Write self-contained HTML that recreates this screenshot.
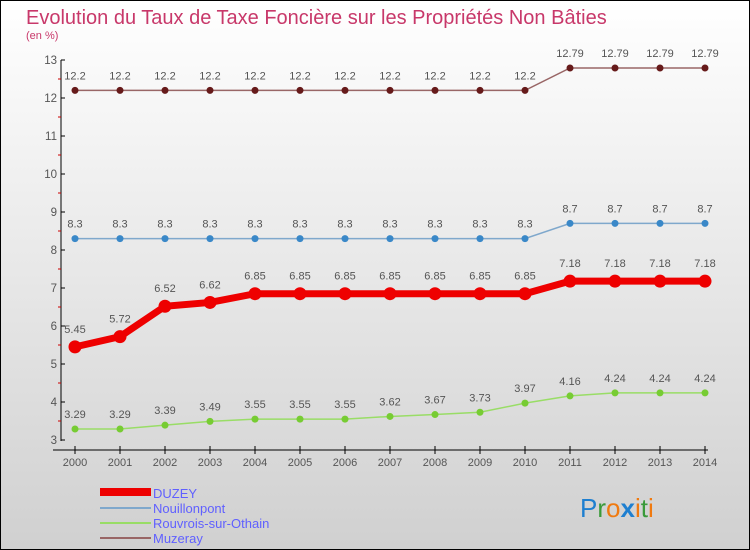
<!DOCTYPE html>
<html><head><meta charset="utf-8"><style>
body{margin:0;}
#wrap{width:750px;height:550px;position:relative;box-sizing:border-box;border:1px solid #000;background:linear-gradient(#ffffff,#d0d0d0);font-family:"Liberation Sans",sans-serif;overflow:hidden;}
</style></head><body>
<div id="wrap">
<svg id="chart" width="750" height="550" style="position:absolute;left:-1px;top:-1px">
<text x="26" y="24" font-size="20" fill="#c8386a">Evolution du Taux de Taxe Foncière sur les Propriétés Non Bâties</text>
<text x="26" y="39" font-size="11" fill="#c8386a">(en %)</text>
<g id="axes"></g>
<g id="series"></g>
<g id="legend" font-size="13" fill="#6060ff">
<rect x="100" y="488" width="51" height="8" fill="#e00"/>
<text x="153" y="498">DUZEY</text>
<rect x="100" y="507" width="51" height="2" fill="#7fa8cc"/>
<text x="153" y="513">Nouillonpont</text>
<rect x="100" y="522" width="51" height="2" fill="#99dd66"/>
<text x="153" y="528">Rouvrois-sur-Othain</text>
<rect x="100" y="537" width="51" height="2" fill="#996666"/>
<text x="153" y="543">Muzeray</text>
</g>
<text x="580" y="517" font-size="26"><tspan fill="#1e7fd0">P</tspan><tspan fill="#3a9a3a">r</tspan><tspan fill="#f07a10">o</tspan><tspan fill="#1e7fd0" font-weight="bold">x</tspan><tspan fill="#f07a10">i</tspan><tspan fill="#3a9a3a">t</tspan><tspan fill="#f07a10">i</tspan></text>
</svg>
</div>
<script>
const years=[2000,2001,2002,2003,2004,2005,2006,2007,2008,2009,2010,2011,2012,2013,2014];
const duzey=[5.45,5.72,6.52,6.62,6.85,6.85,6.85,6.85,6.85,6.85,6.85,7.18,7.18,7.18,7.18];
const nouillonpont=[8.3,8.3,8.3,8.3,8.3,8.3,8.3,8.3,8.3,8.3,8.3,8.7,8.7,8.7,8.7];
const rouvrois=[3.29,3.29,3.39,3.49,3.55,3.55,3.55,3.62,3.67,3.73,3.97,4.16,4.24,4.24,4.24];
const muzeray=[12.2,12.2,12.2,12.2,12.2,12.2,12.2,12.2,12.2,12.2,12.2,12.79,12.79,12.79,12.79];
const yTicks=[3,4,5,6,7,8,9,10,11,12,13];
const NS="http://www.w3.org/2000/svg";
function x(i){return 75+i*45;}
function y(v){return 440-(v-3)*38;}
function mk(tag,attrs,parent){const e=document.createElementNS(NS,tag);for(const k in attrs)e.setAttribute(k,attrs[k]);parent.appendChild(e);return e;}
const axes=document.getElementById('axes');
const yl=mk('line',{x1:61,y1:y(13),x2:61,y2:441,stroke:'#000'},axes);


const xl=mk('line',{x1:53,y1:450,x2:708,y2:450,stroke:'#000'},axes);


yTicks.forEach(v=>{
  mk('line',{x1:61,y1:y(v),x2:65,y2:y(v),stroke:'#000'},axes);
  if(v<13) mk('line',{x1:58,y1:y(v+0.5),x2:61,y2:y(v+0.5),stroke:'#c00'},axes);
  const t=mk('text',{x:57,y:y(v)+4,'text-anchor':'end','font-size':11.5,fill:'#555'},axes);
  t.textContent=v;
  
  
});
years.forEach((yr,i)=>{
  mk('line',{x1:x(i),y1:446,x2:x(i),y2:454,stroke:'#000'},axes);
  const t=mk('text',{x:x(i),y:466,'text-anchor':'middle','font-size':11,fill:'#555'},axes);
  t.textContent=yr;
  
  
});
const sg=document.getElementById('series');
function draw(data,name,color,width,r,dot,lab){
  const g=mk('g',{},sg);
  
  
  mk('polyline',{points:data.map((v,i)=>x(i)+','+y(v)).join(' '),fill:'none',stroke:color,'stroke-width':width},g);
  data.forEach((v,i)=>{
    const c=mk('circle',{cx:x(i),cy:y(v),r:r,fill:dot},g);
    
    
    const t=mk('text',{x:x(i),y:y(v)-lab,'text-anchor':'middle','font-size':11,fill:'#555'},g);
    t.textContent=v;
    
    
  });
}
draw(muzeray,'muzeray','#996666',1.5,3.5,'#661a1a',11);
draw(nouillonpont,'nouillonpont','#7fa8cc',1.5,3.5,'#3a88c8',11);
draw(rouvrois,'rouvrois','#99dd66',1.5,3.5,'#77cc33',11);
draw(duzey,'duzey','#ee0000',7,6.5,'#ee0000',14);
</script>
</body></html>
